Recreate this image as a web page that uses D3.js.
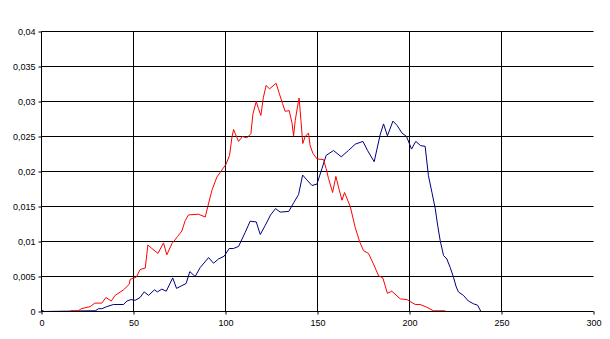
<!DOCTYPE html>
<html><head><meta charset="utf-8">
<script src="https://cdn.jsdelivr.net/npm/d3@7"></script>
<style>html,body{margin:0;padding:0;background:#fff;}svg{display:block;}</style>
</head><body>
<svg id="chart" width="610" height="339"></svg>
<script>
const xTicks = [0, 50, 100, 150, 200, 250, 300];
const yTicks = [0, 0.005, 0.01, 0.015, 0.02, 0.025, 0.03, 0.035, 0.04];

const redX = [16,20,21.6,26.5,29,32.8,35,37.9,40,44.6,47.7,48.2,51.5,53.6,56.4,57.8,60,63.3,66.3,68.1,70.9,73.9,76.3,78.1,79.9,85.3,89,90.4,92.6,95.3,98,100.2,102.2,103.5,104.4,105.3,107.1,109.2,111.6,113.8,114.9,116.7,117.9,119.2,120.6,122.1,123.9,127.5,129.3,131,132.4,134.6,136.1,137,137.9,139.1,140,141,142,143.3,145.1,146,147.5,149.7,153.3,154.7,156,158.2,160,161.4,163.3,164.7,167.8,170.5,173,175,177.7,180.4,183.2,185.5,188,190.4,195,198.6,203.1,205.8,209.5,213,219.4];
const redY = [0.0001,0.0001,0.0004,0.0007,0.0012,0.0012,0.002,0.0015,0.0023,0.0031,0.0039,0.0046,0.0049,0.006,0.0062,0.0095,0.009,0.0083,0.0098,0.0081,0.0097,0.0107,0.0115,0.013,0.0138,0.0139,0.0135,0.015,0.0173,0.0192,0.0202,0.021,0.0223,0.0249,0.026,0.0254,0.0243,0.025,0.0248,0.0254,0.0282,0.030,0.029,0.028,0.0306,0.0323,0.0318,0.0326,0.0311,0.0297,0.0286,0.0287,0.027,0.0251,0.0273,0.0292,0.0305,0.0273,0.024,0.025,0.0255,0.0237,0.0226,0.0218,0.0217,0.0204,0.019,0.017,0.0193,0.0178,0.0159,0.017,0.015,0.012,0.0099,0.0087,0.0083,0.0068,0.0051,0.0048,0.0026,0.0029,0.0018,0.0017,0.001,0.001,0.0006,0.0001,0.0001];

const blueX = [0,1.5,26.5,29.2,31,32.8,35.5,39.1,44.6,46.4,48.6,50.9,53.6,55.8,58.2,61.4,63,65.4,67.8,71.3,73.4,76.3,78.6,80.6,83.5,86.3,90.8,93.5,96.2,99.3,102,104.3,107.1,110.7,113.4,116.7,118.9,121.6,124.5,127.2,129.7,134.4,137.2,139.7,141.9,144.2,147,149.7,152.4,154.7,158.7,162.9,166.8,170.5,174.7,177.2,180.8,184.1,185.9,188,191,193.2,195.9,198.4,201.1,203.4,206,208.5,210.3,212.2,214,215.2,216.7,218.5,220.3,222.1,223.9,225.4,226.6,229.3,232,234.8,237,238.8];
const blueY = [0.0002,0,0.0001,0.0001,0.0004,0.0004,0.0007,0.001,0.001,0.0015,0.0017,0.0016,0.002,0.0028,0.0023,0.0031,0.0028,0.0032,0.0029,0.0048,0.0033,0.0037,0.004,0.0057,0.005,0.0063,0.0077,0.0069,0.0075,0.0079,0.009,0.009,0.0093,0.0113,0.0129,0.0128,0.011,0.0123,0.0138,0.0147,0.0142,0.0143,0.0156,0.0167,0.0195,0.0188,0.018,0.0182,0.0204,0.0223,0.023,0.0221,0.023,0.0239,0.0243,0.023,0.0214,0.0253,0.0268,0.0251,0.0272,0.0266,0.0255,0.025,0.0232,0.0243,0.0237,0.0236,0.0194,0.017,0.0147,0.0125,0.0101,0.008,0.0075,0.0063,0.0049,0.0035,0.0028,0.0023,0.0015,0.0011,0.0009,0];

const svg = d3.select('#chart');
const x = d3.scaleLinear().domain([0, 300]).range([41.5, 593.5]);
const y = d3.scaleLinear().domain([0, 0.04]).range([311.5, 31.5]);
const fmt = d => d === 0 ? '0' : String(d).replace('.', ',');
const font = 'Liberation Sans, Arial, sans-serif';

// horizontal gridlines
svg.append('g').selectAll('line').data(yTicks.filter(d => d > 0)).join('line')
  .attr('x1', x(0)).attr('x2', x(300)).attr('y1', d => y(d)).attr('y2', d => y(d))
  .attr('stroke', '#000').attr('stroke-width', 1);
// vertical gridlines
svg.append('g').selectAll('line').data(xTicks.filter(d => d > 0 && d < 300)).join('line')
  .attr('x1', d => x(d)).attr('x2', d => x(d)).attr('y1', y(0)).attr('y2', y(0.04))
  .attr('stroke', '#000').attr('stroke-width', 1);

const line = d3.line().x(d => x(d[0])).y(d => y(d[1]));
const redData = redX.map((v, i) => [v, redY[i]]);
const blueData = blueX.map((v, i) => [v, blueY[i]]);

svg.append('path').datum(blueData).attr('d', line).attr('fill', 'none').attr('stroke', '#000080').attr('stroke-width', 1);
svg.append('path').datum(redData).attr('d', line).attr('fill', 'none').attr('stroke', '#ff0000').attr('stroke-width', 1);

// axes
const yAxis = svg.append('g').attr('transform', `translate(${x(0)},0)`)
  .call(d3.axisLeft(y).tickValues(yTicks).tickSize(3).tickPadding(3).tickFormat(fmt));
const xAxis = svg.append('g').attr('transform', `translate(0,${y(0)})`)
  .call(d3.axisBottom(x).tickValues(xTicks).tickSize(3).tickPadding(5).tickFormat(d => d));
[xAxis, yAxis].forEach(a => {
  a.select('.domain').attr('stroke', '#000').attr('stroke-width', 1);
  a.selectAll('.tick line').attr('stroke', '#000');
  a.selectAll('text').attr('fill', '#000').style('font-family', font).style('font-size', '9px');
});
xAxis.select('.domain').attr('d', `M${x(0)},0.5V0H${x(300)}V0.5`);
yAxis.select('.domain').attr('d', `M-0.5,${y(0)}H0V${y(0.04)}H-0.5`);
</script>
</body></html>
